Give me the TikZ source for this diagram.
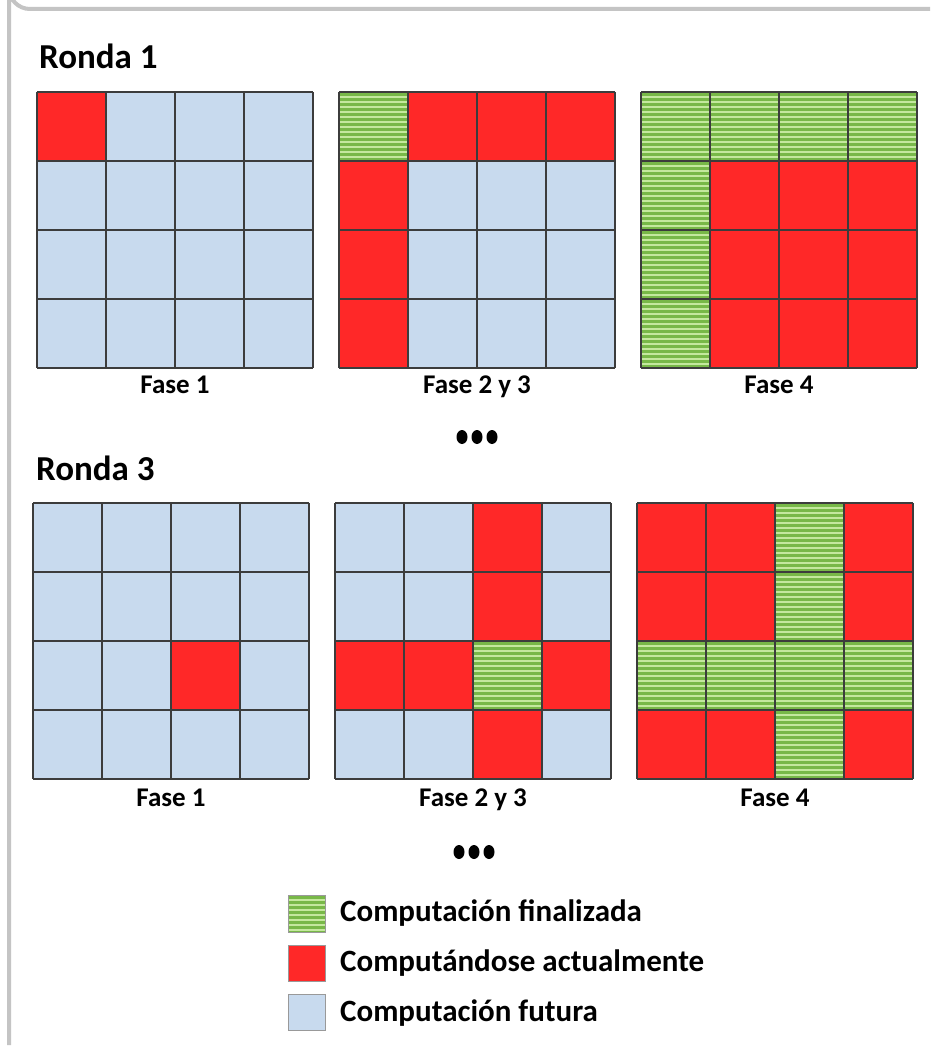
\documentclass[tikz,border=0pt]{standalone}
\usepackage{fontspec}
\setmainfont{Carlito}
\begin{document}
\begin{tikzpicture}[x=1pt,y=-1pt,
  gridline/.style={draw=gridgray,line width=1.3pt},
  title/.style={anchor=base west,font=\bfseries\fontsize{35}{40}\selectfont,inner sep=0pt},
  faselabel/.style={anchor=base,font=\bfseries\fontsize{27}{32}\selectfont,inner sep=0pt},
  legendtext/.style={anchor=west,font=\bfseries\fontsize{31}{36}\selectfont,inner sep=0pt},
  dotmark/.style={fill=black,ellipse},
  legendbox/.style={draw=gray!80,line width=0.8pt}]
\definecolor{cellblue}{HTML}{C8DAEE}
\definecolor{cellred}{HTML}{FF2828}
\definecolor{lgreen}{HTML}{C4E89E}
\definecolor{dgreen}{HTML}{78B848}
\definecolor{gridgray}{HTML}{3C3C3C}
\definecolor{framegray}{HTML}{C4C4C4}
\useasboundingbox (0,0) rectangle (938,1049);
\fill[white] (0,0) rectangle (938,1049);
% frame
\draw[framegray,line width=4pt] (930,9) -- (30,9) arc[start angle=90,end angle=180,radius=21] -- (9,1045);
% macros
\newcommand\gbox[3]{%
  \fill[lgreen] (#1,#2) rectangle ++(#3,#3);
  \begin{scope}
    \clip (#1,#2) rectangle ++(#3,#3);
    \foreach \k in {0,...,16} \draw[dgreen,line width=2.1pt] ({#1},{#2+2.5+\k*5}) -- ++(#3,0);
  \end{scope}}
\newcommand\gcell[2]{\gbox{#1}{#2}{69}}
\newcommand\rcell[2]{\fill[cellred] (#1,#2) rectangle ++(69,69);}
\newcommand\bgrid[2]{\fill[cellblue] (#1,#2) rectangle ++(276,276);}
\newcommand\glines[2]{%
  \foreach \i in {0,...,4} {
    \draw[gridline] ({#1+69*\i},#2) -- ++(0,276);
    \draw[gridline] (#1,{#2+69*\i}) -- ++(276,0);
  }}
\newcommand\threedots[2]{%
  \foreach \j in {-1,0,1} \fill[black] ({#1+15*\j},#2) ellipse[x radius=5.5,y radius=7];}
% ---------- Ronda 1 ----------
\node[title] (r1) at (39,68) {Ronda 1};
% Fase 1
\bgrid{37}{92}
\rcell{37}{92}
\glines{37}{92}
% Fase 2 y 3
\bgrid{339}{92}
\gcell{339}{92}
\foreach \c in {1,2,3} {\rcell{339+69*\c}{92}}
\foreach \r in {1,2,3} {\rcell{339}{92+69*\r}}
\glines{339}{92}
% Fase 4
\foreach \r in {1,2,3} \foreach \c in {1,2,3} {\rcell{641+69*\c}{92+69*\r}}
\foreach \c in {0,1,2,3} {\gcell{641+69*\c}{92}}
\foreach \r in {1,2,3} {\gcell{641}{92+69*\r}}
\glines{641}{92}
\node[faselabel] (f11) at (175,393) {Fase 1};
\node[faselabel] (f12) at (477,393) {Fase 2 y 3};
\node[faselabel] (f13) at (779,393) {Fase 4};
\threedots{477}{437}
% ---------- Ronda 3 ----------
\node[title] (r3) at (36,480) {Ronda 3};
% Fase 1
\bgrid{33}{503}
\rcell{171}{641}
\glines{33}{503}
% Fase 2 y 3
\bgrid{335}{503}
\foreach \r in {0,1,3} {\rcell{473}{503+69*\r}}
\foreach \c in {0,1,3} {\rcell{335+69*\c}{641}}
\gcell{473}{641}
\glines{335}{503}
% Fase 4
\fill[cellred] (637,503) rectangle ++(276,276);
\foreach \r in {0,1,2,3} {\gcell{775}{503+69*\r}}
\foreach \c in {0,1,3} {\gcell{637+69*\c}{641}}
\glines{637}{503}
\node[faselabel] (f31) at (171,806) {Fase 1};
\node[faselabel] (f32) at (473,806) {Fase 2 y 3};
\node[faselabel] (f33) at (775,806) {Fase 4};
\threedots{474}{852}
% ---------- Legend ----------
\gbox{288}{895}{37}
\draw[legendbox] (288,895) rectangle (325,932);
\fill[cellred] (288,945) rectangle (325,981);
\draw[legendbox] (288,945) rectangle (325,981);
\fill[cellblue] (288,994) rectangle (325,1030);
\draw[legendbox] (288,994) rectangle (325,1030);
\node[legendtext] (l1) at (340,913) {Computación finalizada};
\node[legendtext] (l2) at (340,963) {Computándose actualmente};
\node[legendtext] (l3) at (340,1013) {Computación futura};
\end{tikzpicture}
\end{document}
